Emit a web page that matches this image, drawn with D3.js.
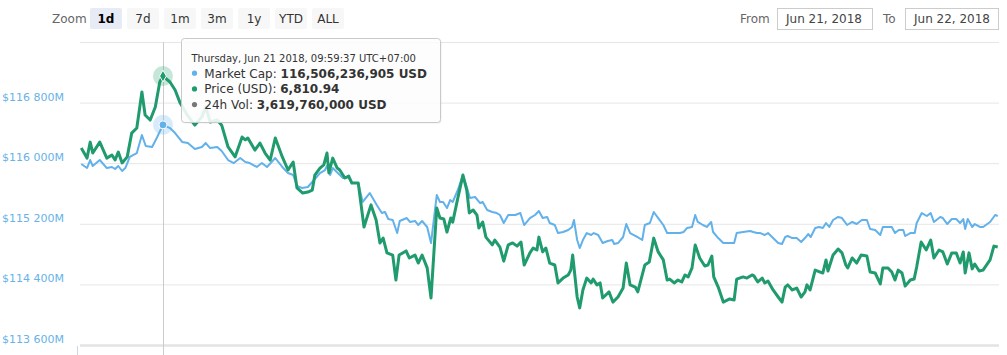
<!DOCTYPE html>
<html><head><meta charset="utf-8">
<script src="https://cdn.jsdelivr.net/npm/d3@7/dist/d3.min.js"></script>
<style>
html,body{margin:0;padding:0;background:#fff;}
svg{display:block;font-family:"DejaVu Sans",sans-serif;}
</style></head>
<body><svg id="c" width="1007" height="355"></svg>
<script>
// ---------- data ----------
const zoomButtons = ["1d","7d","1m","3m","1y","YTD","ALL"];
const selectedButton = "1d";
const fromDate = "Jun 21, 2018";
const toDate = "Jun 22, 2018";
const capTicks = [113600,114400,115200,116000,116800,117600];   // USD millions
const priceDomain = [6700, 6825];                                 // hidden price axis
// minutes after Jun 21 2018 07:49:37 (UTC+07:00)
const capMinutes = [2,11,16,20,31,42,50,55,60,66,71,78,89,97,103,113,121,130,141,149,160,169,180,191,197,204,215,222,232,241,251,259,266,277,285,293,306,317,326,334,340,348,357,368,376,384,387,392,396,404,412,420,426,436,443,454,465,473,478,483,490,497,501,512,517,525,530,536,544,550,559,564,569,575,580,584,592,600,606,611,619,627,631,638,646,653,658,664,671,682,690,696,705,713,719,725,732,736,744,749,757,765,771,774,779,783,788,794,801,805,812,819,827,834,837,843,851,856,862,873,881,885,893,899,906,914,920,929,940,946,951,959,964,968,976,982,989,992,1000,1008,1018,1025,1029,1039,1050,1055,1061,1066,1073,1078,1086,1094,1100,1105,1109,1116,1123,1130,1136,1141,1145,1152,1158,1164,1169,1174,1180,1188,1194,1202,1210,1217,1225,1233,1238,1246,1254,1258,1266,1272,1277,1283,1290,1293,1301,1308,1311,1319,1327,1333,1338,1348,1352,1359,1366,1373,1379,1384,1387,1391,1398,1402,1410,1415,1426,1434,1438];
const marketCap = [115989,115936,116042,115963,116042,115936,115950,115923,115963,115897,115936,116082,116134,116372,116227,116214,116346,116506,116464,116398,116280,116266,116187,116214,116266,116200,116214,116161,116042,116002,116068,116016,116002,115950,116002,115950,116068,115950,115870,115844,115699,115672,115686,115791,115870,115910,115963,115844,115936,115870,115804,115818,115738,115738,115488,115606,115448,115342,115356,115263,115250,115078,115237,115276,115224,115237,115184,115237,115158,114946,115580,115488,115488,115408,115514,115488,115646,115844,115686,115540,115554,115474,115488,115382,115356,115342,115316,115210,115316,115316,115342,115184,115276,115316,115369,115276,115290,115210,115184,115078,115092,115118,115158,115250,114986,114880,114986,115078,115052,115078,115052,114946,114973,114986,114933,114946,115026,115197,115078,115026,114986,115184,115210,115356,115276,115184,115078,115078,115078,115092,115144,115158,115316,115224,115184,115158,115224,115092,115012,114946,114946,114946,115078,115092,115105,115092,115078,115078,115052,115078,115012,114946,114933,115026,115039,115012,115012,114960,115012,115065,115026,115144,115158,115144,115210,115158,115250,115290,115276,115184,115224,115197,115250,115250,115131,115118,115052,115158,115158,115158,115078,115118,115118,115039,115078,115078,115210,115342,115303,115342,115224,115290,115276,115197,115263,115263,115210,115263,115131,115263,115158,115197,115158,115158,115224,115316,115303];
const priceMinutes = [2,11,16,20,31,42,50,55,60,66,74,81,89,97,102,110,118,125,130,141,149,157,169,180,191,197,204,215,222,232,243,254,259,263,274,282,290,298,306,317,326,334,340,349,357,364,368,376,382,387,390,396,403,407,415,421,426,436,445,456,464,470,475,481,490,495,500,511,516,525,530,536,544,550,559,564,570,575,581,584,592,600,606,610,616,622,625,631,636,646,650,658,664,671,678,685,691,696,705,710,716,719,725,730,736,744,749,757,765,769,772,779,783,788,794,801,804,810,815,819,829,835,843,851,856,862,870,874,885,892,899,906,914,920,924,931,937,943,948,953,959,964,971,979,984,990,993,1000,1008,1018,1025,1029,1039,1045,1053,1056,1062,1069,1073,1078,1086,1094,1100,1105,1109,1116,1123,1130,1136,1139,1144,1152,1160,1164,1169,1172,1180,1188,1194,1200,1203,1210,1217,1224,1233,1238,1246,1254,1258,1266,1272,1277,1282,1288,1293,1301,1307,1311,1318,1326,1333,1338,1346,1352,1359,1366,1373,1379,1384,1387,1393,1398,1402,1409,1415,1426,1432,1438];
const price = [6781.3,6777.1,6783.7,6779.2,6783.7,6777.1,6778.4,6776.3,6779.6,6775.1,6777.6,6787.4,6789.5,6804.4,6794.9,6792.8,6798.2,6808.5,6810.94,6808.5,6805.2,6799.8,6794.5,6790.7,6794.1,6798.2,6792.0,6792.8,6790.7,6781.7,6777.6,6785.8,6784.6,6785.4,6780.4,6783.3,6779.2,6776.3,6785.4,6777.6,6772.2,6775.5,6764.8,6762.7,6763.1,6763.9,6770.1,6773.0,6774.3,6779.2,6771.0,6777.1,6773.0,6772.2,6768.9,6769.7,6766.8,6766.8,6748.7,6757.8,6751.6,6742.1,6744.1,6738.0,6737.1,6726.8,6737.1,6738.8,6735.9,6737.1,6733.8,6737.1,6731.8,6719.4,6756.5,6752.4,6752.0,6746.6,6752.4,6750.7,6760.6,6770.1,6763.9,6754.5,6755.7,6753.6,6748.3,6750.7,6744.5,6741.3,6743.3,6740.4,6734.6,6741.3,6742.1,6740.8,6742.5,6733.0,6738.0,6740.0,6739.2,6744.5,6738.4,6740.0,6733.8,6733.0,6725.6,6727.6,6728.9,6730.9,6737.1,6719.8,6715.3,6722.7,6727.6,6725.6,6727.2,6724.8,6725.6,6719.4,6721.9,6717.7,6719.8,6723.5,6733.8,6724.8,6723.9,6721.9,6733.0,6734.2,6744.1,6738.4,6735.1,6726.8,6727.2,6725.6,6726.8,6726.0,6728.9,6728.1,6731.8,6741.3,6735.9,6732.6,6733.0,6736.7,6728.1,6723.9,6717.7,6719.0,6718.6,6727.2,6728.1,6727.6,6728.9,6728.5,6726.0,6727.6,6725.6,6726.4,6722.7,6719.8,6717.7,6723.9,6724.8,6722.7,6723.5,6719.8,6721.9,6724.8,6722.7,6730.9,6730.1,6729.7,6735.1,6730.5,6737.1,6739.6,6738.0,6733.0,6731.8,6735.9,6733.8,6737.1,6736.7,6730.1,6729.7,6725.2,6731.8,6731.8,6730.1,6726.8,6730.9,6729.7,6724.3,6726.8,6727.2,6732.2,6742.5,6739.2,6743.3,6735.9,6739.2,6738.4,6733.4,6738.0,6738.0,6733.8,6738.4,6729.7,6738.0,6731.4,6733.4,6730.5,6730.9,6735.1,6740.8,6740.4];
const hoverMinute = 130;
const tooltipHeader = "Thursday, Jun 21 2018, 09:59:37 UTC+07:00";
const tooltipCap = "116,506,236,905 USD";
const tooltipPrice = "6,810.94";
const tooltipVol = "3,619,760,000 USD";

// ---------- styles ----------
const BLUE = "#62b1ea", GREEN = "#1f9b6d", LABEL = "#68b2e8";
const svg = d3.select("#c");
const plot = {l:80, r:999, t:42, b:345};

const x = d3.scaleLinear().domain([0,1440]).range([plot.l, plot.r]);
const yCap = d3.scaleLinear().domain([capTicks[0], capTicks[capTicks.length-1]]).range([plot.b, plot.t]);
const yPrice = d3.scaleLinear().domain(priceDomain).range([plot.b, plot.t]);

// range selector
svg.append("text").attr("x",52).attr("y",22.5).attr("font-size",12).attr("fill","#666").text("Zoom");
const bg = svg.append("g");
zoomButtons.forEach((b,i)=>{
  const bx = 90 + i*37;
  const sel = b===selectedButton;
  bg.append("rect").attr("x",bx).attr("y",8).attr("width",32).attr("height",21).attr("rx",2)
    .attr("fill", sel?"#e6ebf5":"#f7f7f7");
  bg.append("text").attr("x",bx+16).attr("y",22.5).attr("text-anchor","middle").attr("font-size",12)
    .attr("font-weight", sel?"bold":"normal").attr("fill", sel?"#000":"#333").text(b);
});
svg.append("text").attr("x",740).attr("y",22.5).attr("font-size",12).attr("fill","#666").text("From");
svg.append("rect").attr("x",777.5).attr("y",8.5).attr("width",95).attr("height",21).attr("fill","#fff").attr("stroke","#ccc");
svg.append("text").attr("x",786).attr("y",22.5).attr("font-size",12).attr("fill","#444").text(fromDate);
svg.append("text").attr("x",883).attr("y",22.5).attr("font-size",12).attr("fill","#666").text("To");
svg.append("rect").attr("x",905.5).attr("y",8.5).attr("width",93).attr("height",21).attr("fill","#fff").attr("stroke","#ccc");
svg.append("text").attr("x",914).attr("y",22.5).attr("font-size",12).attr("fill","#444").text(toDate);

// grid
const yAxis = d3.axisLeft(yCap).tickValues(capTicks).tickSize(-(plot.r-plot.l)).tickFormat("");
const gg = svg.append("g").attr("transform",`translate(${plot.l},0)`).call(yAxis);
gg.select(".domain").remove();
gg.selectAll(".tick line").attr("stroke","#e6e6e6");
gg.selectAll(".tick").filter(d=>d===capTicks[0]).select("line").attr("stroke-width",2.5).attr("stroke","#e3e3e3");

// labels
const fmt = v => "$" + d3.format(",")(v).replace(/,/g," ") + "M";
svg.append("g").selectAll("text").data(capTicks.slice(0,-1)).join("text")
  .attr("x",64).attr("y",d=>yCap(d)-2).attr("text-anchor","end").attr("font-size",11)
  .attr("fill",LABEL).text(fmt);

// x axis tick stub
svg.append("line").attr("x1",77.5).attr("x2",77.5).attr("y1",346).attr("y2",355).attr("stroke","#ccd6eb");

// crosshair
const hx = Math.round(x(hoverMinute))+0.5;
svg.append("line").attr("x1",hx).attr("x2",hx).attr("y1",plot.t).attr("y2",355).attr("stroke","#cccccc");

// series
const capData = capMinutes.map((m,i)=>[m,marketCap[i]]);
const priceData = priceMinutes.map((m,i)=>[m,price[i]]);
svg.append("path").datum(capData)
  .attr("d", d3.line().x(d=>x(d[0])).y(d=>yCap(d[1])))
  .attr("fill","none").attr("stroke",BLUE).attr("stroke-width",2).attr("stroke-linejoin","round");
svg.append("path").datum(priceData)
  .attr("d", d3.line().x(d=>x(d[0])).y(d=>yPrice(d[1])))
  .attr("fill","none").attr("stroke",GREEN).attr("stroke-width",3).attr("stroke-linejoin","round");

// hover markers
const hc = capData.find(d=>d[0]===hoverMinute), hp = priceData.find(d=>d[0]===hoverMinute);
svg.append("circle").attr("cx",x(hc[0])).attr("cy",yCap(hc[1])).attr("r",10).attr("fill",BLUE).attr("fill-opacity",0.25);
svg.append("circle").attr("cx",x(hc[0])).attr("cy",yCap(hc[1])).attr("r",4).attr("fill",BLUE).attr("stroke","#fff").attr("stroke-width",1);
svg.append("circle").attr("cx",x(hp[0])).attr("cy",yPrice(hp[1])).attr("r",10).attr("fill",GREEN).attr("fill-opacity",0.25);
svg.append("path").attr("d",d3.symbol(d3.symbolDiamond,40)()).attr("transform",`translate(${x(hp[0])},${yPrice(hp[1])})`)
  .attr("fill",GREEN).attr("stroke","#fff").attr("stroke-width",1);

// tooltip
const tt = svg.append("g").attr("transform","translate(181,38)");
tt.append("rect").attr("x",1.5).attr("y",1.5).attr("width",259).attr("height",84).attr("rx",3).attr("fill","rgba(0,0,0,0.07)");
tt.append("rect").attr("x",0.5).attr("y",0.5).attr("width",259).attr("height",84).attr("rx",3)
  .attr("fill","rgba(255,255,255,0.88)").attr("stroke","#c9c9c9");
tt.append("text").attr("x",10.5).attr("y",24).attr("font-size",10).attr("fill","#333").text(tooltipHeader);
const rows = [["Market Cap: ",tooltipCap,BLUE],["Price (USD): ",tooltipPrice,GREEN],["24h Vol: ",tooltipVol,"#777"]];
rows.forEach((r,i)=>{
  const yy = 39.5 + i*15.7;
  tt.append("circle").attr("cx",13.5).attr("cy",yy-4.3).attr("r",2.6).attr("fill",r[2]);
  const t = tt.append("text").attr("x",23.3).attr("y",yy).attr("font-size",12).attr("fill","#333");
  t.append("tspan").text(r[0]);
  t.append("tspan").attr("font-weight","bold").text(r[1]);
});
</script></body></html>
